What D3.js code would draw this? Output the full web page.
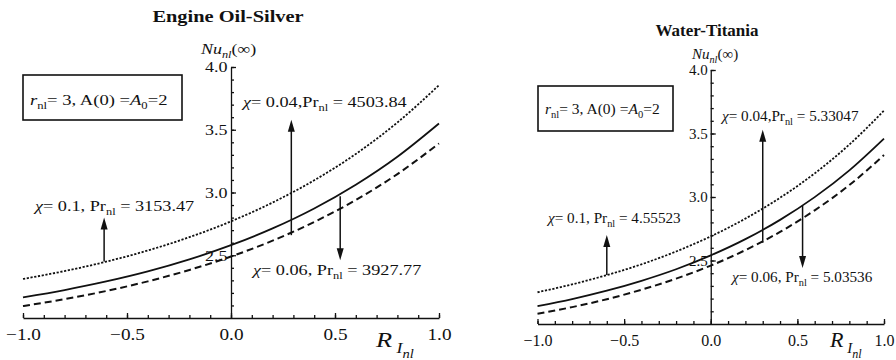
<!DOCTYPE html>
<html>
<head>
<meta charset="utf-8">
<title>Nu_nl versus R_Inl</title>
<script src="https://d3js.org/d3.v7.min.js"></script>
<style>
  body { margin: 0; background: #fff; }
  text { font-family: "Liberation Serif", "Times New Roman", serif; fill: #111; }
</style>
</head>
<body>
<div id="graph"></div>
<script>
// values (x = R_Inl)
var rValues = [-1.0, -0.8, -0.6, -0.4, -0.2, 0.0, 0.2, 0.4, 0.6, 0.8, 1.0];

// Engine Oil-Silver
var oilDotted = [2.311, 2.374, 2.449, 2.538, 2.644, 2.770, 2.920, 3.097, 3.307, 3.558, 3.855];
var oilSolid  = [2.165, 2.223, 2.291, 2.371, 2.467, 2.580, 2.714, 2.873, 3.062, 3.285, 3.550];
var oilDashed = [2.095, 2.150, 2.215, 2.292, 2.383, 2.490, 2.616, 2.765, 2.940, 3.147, 3.391];

// Water-Titania
var waterDotted = [2.250, 2.312, 2.385, 2.470, 2.571, 2.690, 2.830, 2.994, 3.186, 3.413, 3.680];
var waterSolid  = [2.140, 2.196, 2.262, 2.340, 2.431, 2.540, 2.668, 2.820, 2.999, 3.210, 3.460];
var waterDashed = [2.080, 2.133, 2.195, 2.270, 2.357, 2.460, 2.582, 2.725, 2.895, 3.094, 3.330];

var xTickValues = [-1.0, -0.5, 0.0, 0.5, 1.0];
var yTickValues = [2.5, 3.0, 3.5, 4.0];

// arrows: [x, from, to] in data units
var oilArrows   = [[0.29, 2.66, 3.58], [-0.61, 2.45, 2.80], [0.525, 2.97, 2.46]];
var waterArrows = [[0.30, 2.64, 3.53], [-0.60, 2.385, 2.70], [0.53, 2.93, 2.44]];

var oilLabels   = ["4503.84", "3153.47", "3927.77"];
var waterLabels = ["5.33047", "4.55523", "5.03536"];

var width = 896, height = 360;

var svg = d3.select("#graph")
    .append("svg")
    .attr("width", width)
    .attr("height", height);

// text with sub / subsub levels, parts = [text, level, italic]
function richText(g, x, y, parts, size, sx, anchor) {
  var t = g.append("text")
      .attr("transform", "translate(" + x + "," + y + ") scale(" + sx + ",1)")
      .attr("text-anchor", anchor || "start")
      .style("font-size", size + "px");
  var shifts = [0, 0.28, 0.5];
  var sizes = [1, 0.68, 0.55];
  var cur = 0;
  parts.forEach(function(p) {
    var lvl = p[1] || 0;
    var off = shifts[lvl] * size;
    t.append("tspan")
      .attr("dy", off - cur)
      .style("font-size", (sizes[lvl] * size) + "px")
      .style("font-style", p[2] ? "italic" : "normal")
      .text(p[0]);
    cur = off;
  });
  return t;
}

function drawPanel(cfg) {
  var g = svg.append("g");
  var x = d3.scaleLinear().domain([-1, 1]).range(cfg.xr);
  var y = d3.scaleLinear().domain([2, 4]).range(cfg.yr);
  var sx = cfg.sx;

  // minor ticks
  g.append("g")
    .attr("transform", "translate(0," + y(2) + ")")
    .call(d3.axisBottom(x).tickValues(d3.range(-1, 1.0001, 0.1)).tickSize(-3).tickSizeOuter(0).tickFormat(""))
    .call(function(a) { a.select(".domain").remove(); });
  g.append("g")
    .attr("transform", "translate(" + x(0) + ",0)")
    .call(d3.axisLeft(y).tickValues(d3.range(2.1, 4.0001, 0.1)).tickSize(-3).tickSizeOuter(0).tickFormat(""))
    .call(function(a) { a.select(".domain").remove(); });

  // x axis
  var xa = g.append("g")
    .attr("transform", "translate(0," + y(2) + ")")
    .call(d3.axisBottom(x).tickValues(xTickValues).tickSize(-5).tickSizeOuter(0)
      .tickPadding(11).tickFormat(d3.format(".1f")));
  xa.attr("font-family", null).attr("font-size", null);
  xa.selectAll("text")
    .style("font-size", "16px")
    .attr("transform", "scale(" + sx + ",1)");
  // y axis
  var ya = g.append("g")
    .attr("transform", "translate(" + x(0) + ",0)")
    .call(d3.axisLeft(y).tickValues(yTickValues).tickSize(-5).tickSizeOuter(0)
      .tickPadding(3).tickFormat(d3.format(".1f")));
  ya.attr("font-family", null).attr("font-size", null);
  ya.selectAll("text")
    .style("font-size", "15px")
    .attr("transform", "scale(" + sx + ",1)");
  g.selectAll(".domain, .tick line").attr("stroke", "#111").attr("stroke-width", 1.3);

  // curves
  var line = d3.line()
    .x(function(d, i) { return x(rValues[i]); })
    .y(function(d) { return y(d); })
    .curve(d3.curveMonotoneX);
  g.append("path").datum(cfg.dotted)
    .attr("d", line).attr("fill", "none").attr("stroke", "#111")
    .attr("stroke-width", 1.8).attr("stroke-dasharray", "2.2,1.6");
  g.append("path").datum(cfg.solid)
    .attr("d", line).attr("fill", "none").attr("stroke", "#111")
    .attr("stroke-width", 1.8);
  g.append("path").datum(cfg.dashed)
    .attr("d", line).attr("fill", "none").attr("stroke", "#111")
    .attr("stroke-width", 2).attr("stroke-dasharray", "7,4");

  // arrows
  cfg.arrows.forEach(function(a) {
    var ax = x(a[0]), y0 = y(a[1]), y1 = y(a[2]);
    var dir = y1 < y0 ? 1 : -1;
    g.append("line")
      .attr("x1", ax).attr("x2", ax)
      .attr("y1", y0).attr("y2", y1 + dir * 6)
      .attr("stroke", "#111").attr("stroke-width", 1.5);
    g.append("path")
      .attr("d", "M" + ax + "," + y1 + "L" + (ax - 3.5) + "," + (y1 + dir * 12) +
                 "L" + (ax + 3.5) + "," + (y1 + dir * 12) + "Z")
      .attr("fill", "#111");
  });

  // title
  g.append("text")
    .attr("transform", "translate(" + cfg.title[1] + "," + cfg.title[2] + ") scale(" + sx + ",1)")
    .attr("text-anchor", "middle")
    .style("font-size", "17px")
    .style("font-weight", "bold")
    .text(cfg.title[0]);

  // axis labels
  richText(g, cfg.nu[0], cfg.nu[1], [["Nu", 0, true], ["nl", 1, true], ["(\u221e)", 0, false]], 15, sx);
  richText(g, cfg.rl[0], cfg.rl[1], [["R", 0, true], [" I", 1, true], ["nl", 2, true]], 22, sx);

  // parameter box
  g.append("rect")
    .attr("x", cfg.box[0]).attr("y", cfg.box[1])
    .attr("width", cfg.box[2]).attr("height", cfg.box[3])
    .attr("fill", "none").attr("stroke", "#111").attr("stroke-width", 1.6);
  richText(g, cfg.boxText[0], cfg.boxText[1],
    [["r", 0, true], ["nl", 1], ["= 3, A(0) =", 0], ["A", 0, true], ["0", 1], ["=2", 0]], 15.5, sx);

  // curve annotations
  var chis = ["= 0.04,Pr", "= 0.1, Pr", "= 0.06, Pr"];
  cfg.ann.forEach(function(p, i) {
    richText(g, p[0], p[1], [["\u03c7", 0, true], [chis[i], 0], ["nl", 1], [" = " + cfg.labels[i], 0]], 15.2, sx);
  });
}

drawPanel({
  xr: [23, 439], yr: [318, 67], sx: 1.2,
  dotted: oilDotted, solid: oilSolid, dashed: oilDashed,
  arrows: oilArrows, labels: oilLabels,
  title: ["Engine Oil-Silver", 228, 22],
  nu: [201, 54], rl: [376, 347],
  box: [23, 75, 159, 45], boxText: [30, 105],
  ann: [[243, 107], [35, 211], [253, 275]]
});

drawPanel({
  xr: [537.5, 884], yr: [324, 70], sx: 1.0,
  dotted: waterDotted, solid: waterSolid, dashed: waterDashed,
  arrows: waterArrows, labels: waterLabels,
  title: ["Water-Titania", 707, 36],
  nu: [692, 59], rl: [830, 347],
  box: [538, 86, 135, 45], boxText: [545, 114],
  ann: [[722, 121], [548, 223], [732, 282]]
});
</script>
</body>
</html>
